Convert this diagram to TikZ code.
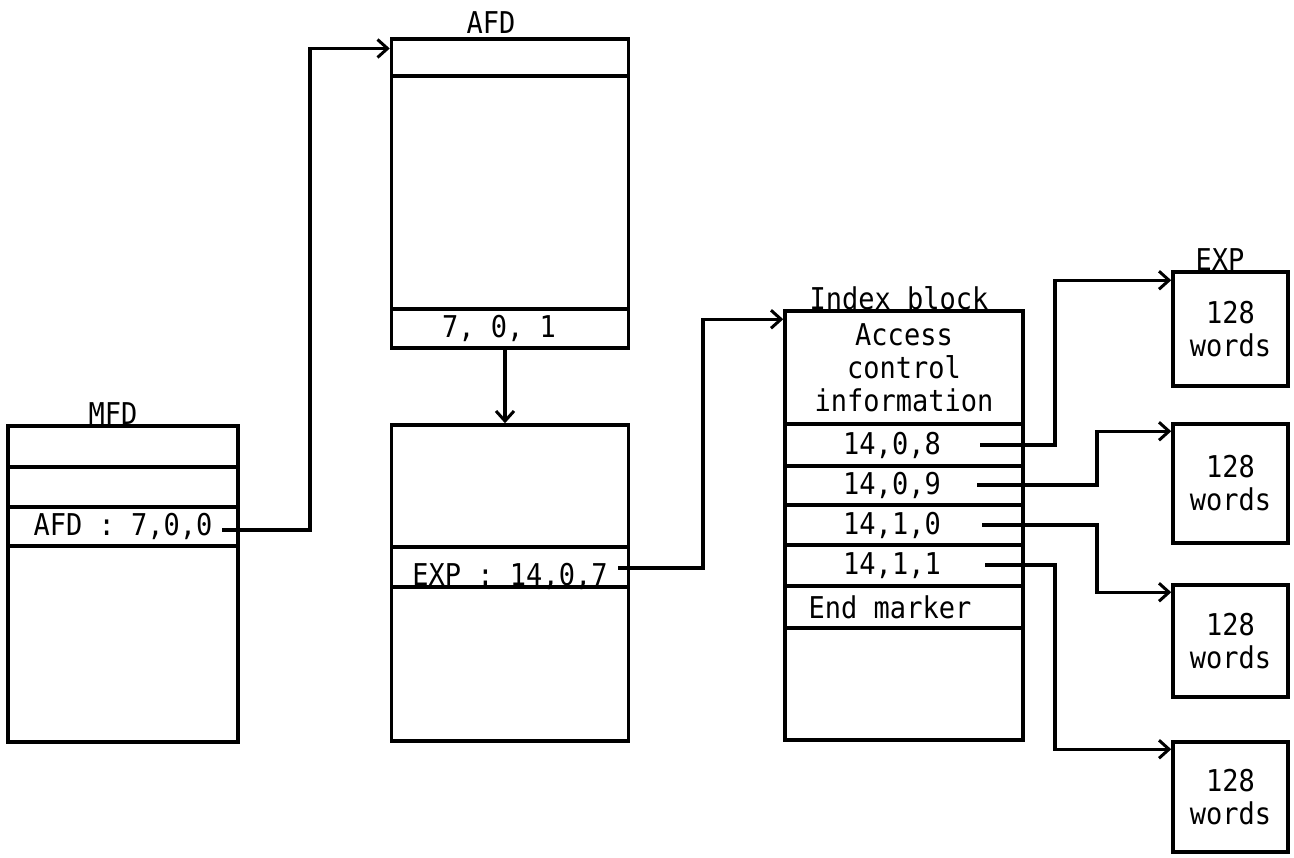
\documentclass[tikz,border=0pt]{standalone}
\usepackage{fontspec}
\newfontfamily\listfont[FakeStretch=0.9]{DejaVu Sans Mono}
\usepackage{tikz}
\usetikzlibrary{arrows.meta}

\begin{document}
\begin{tikzpicture}[x=1pt,y=-1pt,
    font=\listfont\fontsize{30}{33}\selectfont,
    cell/.style={draw,line width=3.5pt,inner sep=0pt,minimum width=#1},
    ptr/.style={line width=3.2pt,-{Straight Barb[length=10pt,width=18pt,line width=3pt]}}]
        \useasboundingbox (0,0) rectangle (1294,858);
        \node[cell=230pt,minimum height=41pt] (mfd1) at (123,446.5) {};
        \node[cell=230pt,minimum height=40pt] (mfd2) at (123,487) {};
        \node[cell=230pt,minimum height=39pt] (mfd3) at (123,526.5) {AFD : 7,0,0};
        \node[cell=230pt,minimum height=196pt] (mfd4) at (123,644) {};
        \node (mfdlab) at (113,414) {MFD};
        \node[cell=237pt,minimum height=37pt] (afd1) at (510,57.5) {};
        \node[cell=237pt,minimum height=233pt] (afd2) at (510,192.5) {};
        \node[cell=237pt,minimum height=39pt] (afd3) at (510,328.5) {7, 0, 1\kern22pt};
        \node (afdlab) at (491,23) {AFD};
        \node[cell=237pt,minimum height=122pt] (ext1) at (510,486) {};
        \node[cell=237pt,minimum height=40pt,text height=38pt,text depth=2pt] (ext2) at (510,567) {EXP : 14,0,7};
        \node[cell=237pt,minimum height=154pt] (ext3) at (510,664) {};
        \node[cell=238pt,minimum height=113pt,align=center] (idx1) at (904,367.5) {Access\\control\\information};
        \node[cell=238pt,minimum height=42pt] (idx2) at (904,445) {14,0,8\kern24pt};
        \node[cell=238pt,minimum height=39pt] (idx3) at (904,485.5) {14,0,9\kern24pt};
        \node[cell=238pt,minimum height=40pt] (idx4) at (904,525) {14,1,0\kern24pt};
        \node[cell=238pt,minimum height=41pt] (idx5) at (904,565.5) {14,1,1\kern24pt};
        \node[cell=238pt,minimum height=42pt] (idx6) at (904,607) {End marker\kern28pt};
        \node[cell=238pt,minimum height=112pt] (idx7) at (904,684) {};
        \node (idxlab) at (899,298) {Index block};
        \node[cell=115pt,minimum height=114pt,align=center] (blk1) at (1230.5,329) {128\\words};
        \node[cell=115pt,minimum height=119pt,align=center] (blk2) at (1230.5,483.5) {128\\words};
        \node[cell=115pt,minimum height=112pt,align=center] (blk3) at (1230.5,641) {128\\words};
        \node[cell=115pt,minimum height=110pt,align=center] (blk4) at (1230.5,797) {128\\words};
        \node (explab) at (1220,260) {EXP};
        \coordinate (mfdout) at (222,530);
        \coordinate (extout) at (618,568);
        \coordinate (out8) at (980,445);
        \coordinate (out9) at (977,485);
        \coordinate (out10) at (982,525);
        \coordinate (out11) at (985,565);
        \draw[ptr] (mfdout) -- ++(88,0) |- ([yshift=9pt]afd1.west);
        \draw[ptr] ([xshift=-5pt]afd3.south) -- ([xshift=-5pt]ext1.north);
        \draw[ptr] (extout) -- ++(85,0) |- ([yshift=-10pt]idx1.north west);
        \draw[ptr] (out8) -- ++(75,0) |- ([yshift=-10pt]blk1.north west);
        \draw[ptr] (out9) -- ++(120,0) |- ([yshift=-9pt]blk2.north west);
        \draw[ptr] (out10) -- ++(115,0) |- ([yshift=-9pt]blk3.north west);
        \draw[ptr] (out11) -- ++(70,0) |- ([yshift=-9pt]blk4.north west);
      \end{tikzpicture}
\end{document}
